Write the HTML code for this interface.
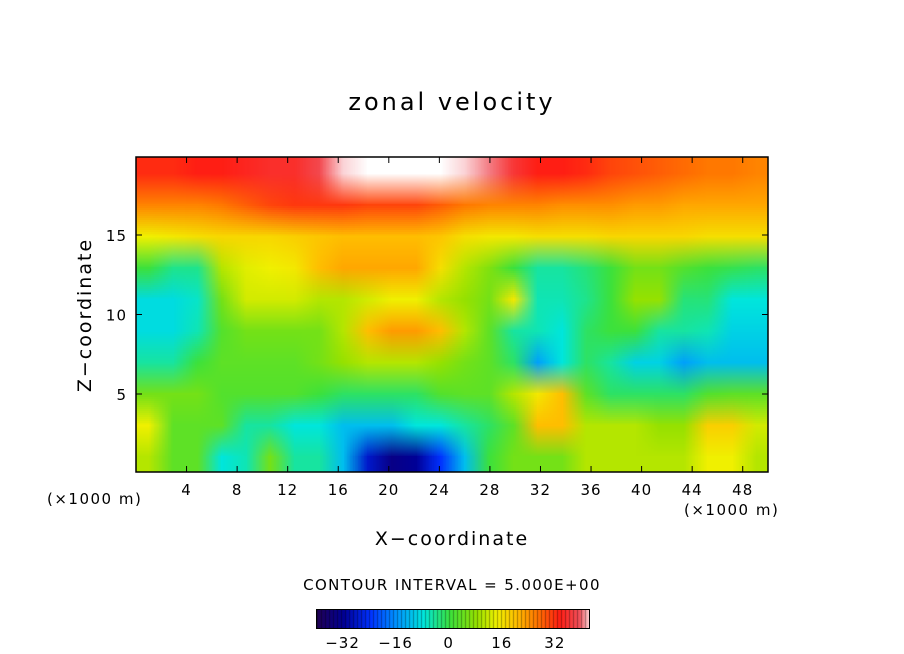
<!DOCTYPE html>
<html><head><meta charset="utf-8"><style>
body{margin:0;background:#fff;width:904px;height:654px;overflow:hidden;position:relative;font-family:"DejaVu Sans","Liberation Sans",sans-serif;}
.t{position:absolute;color:#000;white-space:nowrap;}
#field{position:absolute;left:136px;top:157px;width:632px;height:315px;}
</style></head><body>
<div class="t" style="left:0;width:904px;text-align:center;top:88px;font-size:24px;letter-spacing:3px;">zonal velocity</div>
<canvas id="field" width="26" height="10"></canvas>
<svg id="ax" width="904" height="654" style="position:absolute;left:0;top:0"></svg>
<div class="t" style="left:85px;top:315px;font-size:19px;letter-spacing:2px;transform:translate(-50%,-50%) rotate(-90deg);">Z−coordinate</div>
<div class="t" style="left:0;width:904px;text-align:center;top:528px;font-size:19px;letter-spacing:2px;">X−coordinate</div>
<div class="t" style="left:47px;top:490px;font-size:15px;letter-spacing:1.5px;">(×1000 m)</div>
<div class="t" style="left:684px;top:501px;font-size:15px;letter-spacing:1.5px;">(×1000 m)</div>
<div class="t" style="left:0;width:904px;text-align:center;top:576px;font-size:15px;letter-spacing:1.4px;">CONTOUR INTERVAL = 5.000E+00</div>
<canvas id="cbar" width="272" height="18" style="position:absolute;left:316px;top:609px;border:1px solid #000;box-sizing:content-box;"></canvas>
<script>
// rows top (z=19) to bottom (z=1), columns x=0..50 step 2
const row19=[32,32,33,33,34,35,35,38,42,44,45,45,44,42,40,36,33,33,32,30,29,28,27,26,26,25];
const row17=[25,25,25,26,28,30,31,31,31,30,30,30,28,26,25,25,25,24,24,24,23,23,22,22,22,22];
const row15=[14,15,16,17,17,17,18,19,20,20,20,20,19,16,15,15,16,16,16,17,17,17,17,16,16,16];
const row13=[0,-4,-4,10,13,14,15,20,22,22,22,22,16,10,6,0,-5,-5,-3,0,5,5,2,0,-1,-2];
const row11=[-9,-9,-7,5,12,12,12,10,10,12,14,14,10,8,5,15,-6,-6,-4,0,8,8,-3,-3,-8,-8];
const row9=[-9,-9,-6,2,5,5,5,5,10,20,23,23,20,10,3,-5,-6,-8,-2,0,0,-5,-5,-6,-10,-10];
const row7=[-5,-5,0,3,3,3,3,5,8,10,10,10,8,5,3,-2,-15,-8,-2,-5,-10,-10,-15,-12,-12,-12];
const row5=[5,5,5,2,2,2,2,0,-2,-2,-2,-2,2,3,3,10,15,20,3,-2,-2,-2,-2,2,3,3];
const row3=[14,3,3,3,-5,-5,-8,-8,-12,-12,-12,-8,-8,-5,-2,3,20,20,10,10,10,8,8,18,18,12];
const row1=[10,3,3,-8,-6,5,-5,-5,-12,-28,-34,-32,-24,-12,0,5,5,5,10,10,10,10,10,14,14,10];
const rows=[row19,row17,row15,row13,row11,row9,row7,row5,row3,row1];
const xTicks=[4,8,12,16,20,24,28,32,36,40,44,48];
const yTicks=[5,10,15];
const cbTicks=[-32,-16,0,16,32];
const stops=[[-42,[40,0,70]],[-32,[0,0,150]],[-24,[0,50,255]],[-16,[0,150,255]],[-8,[0,230,220]],[0,[60,225,60]],[8,[150,225,0]],[14,[240,240,0]],[20,[255,190,0]],[26,[255,120,0]],[33,[255,30,20]],[39,[240,80,90]],[43,[255,255,255]]];
function col(v){if(v<=stops[0][0])return stops[0][1];for(let i=1;i<stops.length;i++){if(v<=stops[i][0]){const a=stops[i-1],b=stops[i],t=(v-a[0])/(b[0]-a[0]);return a[1].map((c,k)=>Math.round(c+(b[1][k]-c)*t));}}return stops[stops.length-1][1];}
const fc=document.getElementById('field').getContext('2d');
const img=fc.createImageData(26,10);
rows.forEach((r,j)=>r.forEach((v,i)=>{const c=col(v),p=(j*26+i)*4;img.data[p]=c[0];img.data[p+1]=c[1];img.data[p+2]=c[2];img.data[p+3]=255;}));
fc.putImageData(img,0,0);
const cb=document.getElementById('cbar').getContext('2d');
for(let i=0;i<272;i++){const v=-40+i/272*82;const c=col(v);cb.fillStyle=`rgb(${c[0]},${c[1]},${c[2]})`;cb.fillRect(i,0,1,18);if(i%4==0){cb.fillStyle='rgba(0,0,0,0.35)';cb.fillRect(i,0,1,18);}}
const NS='http://www.w3.org/2000/svg',svg=document.getElementById('ax');
const X0=136,X1=768,Y0=472,Y1=157;
const xs=v=>X0+(v/50)*(X1-X0), ys=v=>473.5-v*15.9, cs=v=>316+(v+40)/82*272;
function el(t,a){const e=document.createElementNS(NS,t);for(const k in a)e.setAttribute(k,a[k]);svg.appendChild(e);return e;}
const fr=el('rect',{x:X0,y:Y1,width:X1-X0,height:Y0-Y1,fill:'none',stroke:'#000','stroke-width':1.5});


xTicks.forEach(v=>{const x=xs(v);el('line',{x1:x,x2:x,y1:Y0,y2:Y0-6,stroke:'#000'});el('line',{x1:x,x2:x,y1:Y1,y2:Y1+6,stroke:'#000'});
const t=el('text',{x:x,y:495,'text-anchor':'middle','font-size':15,'letter-spacing':1,'font-family':'DejaVu Sans, Liberation Sans, sans-serif'});t.textContent=v;

});
yTicks.forEach(v=>{const y=ys(v);el('line',{x1:X0,x2:X0+6,y1:y,y2:y,stroke:'#000'});el('line',{x1:X1,x2:X1-6,y1:y,y2:y,stroke:'#000'});
const t=el('text',{x:127,y:y+6,'text-anchor':'end','font-size':15,'letter-spacing':1,'font-family':'DejaVu Sans, Liberation Sans, sans-serif'});t.textContent=v;

});
cbTicks.forEach(v=>{const t=el('text',{x:cs(v),y:648,'text-anchor':'middle','font-size':15,'letter-spacing':1,'font-family':'DejaVu Sans, Liberation Sans, sans-serif'});t.textContent=(v<0?'−'+(-v):v);

});
</script>
</body></html>
